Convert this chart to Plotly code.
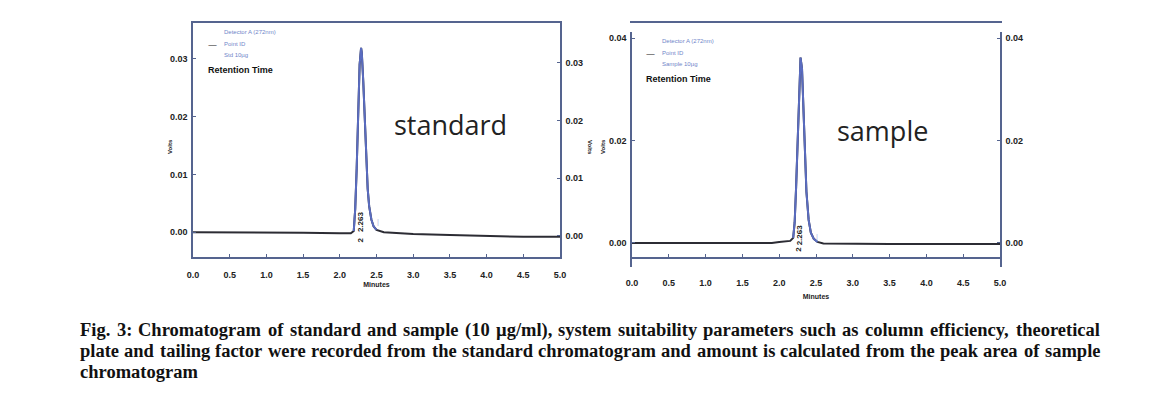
import plotly.graph_objects as go

# ---------------- data ----------------
std_time = [0.0, 0.5, 1.0, 1.5, 2.0, 2.15, 2.19, 2.21, 2.23, 2.25, 2.27, 2.29, 2.30, 2.32,
            2.34, 2.36, 2.38, 2.40, 2.43, 2.46, 2.50, 2.60, 3.0, 3.5, 4.0, 4.5, 5.0]
std_volts = [0.0, 0.0, -0.0001, -0.0001, -0.0002, -0.0002, 0.0002, 0.004, 0.011, 0.021,
             0.029, 0.0319, 0.031, 0.026, 0.019, 0.012, 0.0075, 0.0045, 0.0022, 0.001,
             0.0004, 0.0, -0.0003, -0.0005, -0.0007, -0.0008, -0.0008]

smp_time = [0.0, 0.5, 1.0, 1.5, 1.9, 2.0, 2.15, 2.19, 2.21, 2.23, 2.25, 2.27, 2.29, 2.31,
            2.33, 2.35, 2.37, 2.40, 2.43, 2.47, 2.52, 2.60, 3.0, 3.5, 4.0, 4.5, 5.0]
smp_volts = [0.0, 0.0, -0.0001, -0.0001, 0.0, 0.0002, 0.0004, 0.001, 0.004, 0.011, 0.021,
             0.031, 0.0362, 0.034, 0.026, 0.017, 0.010, 0.0045, 0.002, 0.0008, 0.0002,
             -0.0001, -0.0002, -0.0002, -0.0002, -0.0002, -0.0002]

peak_window = [2.17, 2.56]
peak_label = "2.263"
peak_number = "2"

x_ticks = [0.0, 0.5, 1.0, 1.5, 2.0, 2.5, 3.0, 3.5, 4.0, 4.5, 5.0]
std_y_ticks = [0.00, 0.01, 0.02, 0.03]
smp_y_ticks = [0.00, 0.02, 0.04]

std_legend = ["Detector A (272nm)", "Point ID", "Std 10µg"]
smp_legend = ["Detector A (272nm)", "Point ID", "Sample 10µg"]

caption_lines = [
    "Fig. 3: Chromatogram of standard and sample (10 µg/ml), system suitability parameters such as column efficiency, theoretical",
    "plate and tailing factor were recorded from the standard chromatogram and amount is calculated from the peak area of sample",
    "chromatogram",
]

# ---------------- figure ----------------
W, H = 1150, 396
OFF = 8  # page body margin of the HTML page
fig = go.Figure()

def px_x(p):
    return (p - OFF) / W

def px_y(p):
    return 1 - (p - OFF) / H

BASE = "#2c2c34"
BLUE = "#5a6cc0"
FRAME = "#55648f"
NARROW = "Liberation Sans Narrow, Arial Narrow, Liberation Sans"
TICKFONT = dict(family=NARROW, size=9, color="#222222", weight="bold")

def add_chrom(t, v, xa, ya):
    fig.add_trace(go.Scatter(x=t, y=v, mode="lines", line=dict(color=BASE, width=2),
                             xaxis=xa, yaxis=ya, showlegend=False, hoverinfo="skip"))
    pt = [a for a in t if peak_window[0] <= a <= peak_window[1]]
    pv = [b for a, b in zip(t, v) if peak_window[0] <= a <= peak_window[1]]
    fig.add_trace(go.Scatter(x=pt, y=pv, mode="lines", line=dict(color=BLUE, width=2),
                             xaxis=xa, yaxis=ya, showlegend=False, hoverinfo="skip"))

add_chrom(std_time, std_volts, "x", "y")
add_chrom(smp_time, smp_volts, "x2", "y3")

# panel geometry (pixels in the screenshot)
std_box = dict(l=193, r=560, t=23, b=257)
smp_box = dict(l=632, r=1000, t=32, b=267)

def xaxis_cfg(box, standoff, title_standoff):
    return dict(domain=[px_x(box["l"]), px_x(box["r"])], range=[0, 5], automargin=False,
                tickvals=x_ticks, tickformat=".1f", showgrid=False, zeroline=False,
                showline=True, linecolor=FRAME, linewidth=1.5, mirror=True,
                ticks="inside", ticklen=3, tickcolor=FRAME, tickfont=TICKFONT,
                ticklabelstandoff=standoff,
                title=dict(text="Minutes", font=dict(family=NARROW, size=7, color="#222",
                                                     weight="bold"), standoff=title_standoff))

def yaxis_cfg(box, rng, ticks, anchor, side="left", overlay=None):
    d = dict(domain=[px_y(box["b"]), px_y(box["t"])], range=rng, tickvals=ticks,
             tickformat=".2f", showgrid=False, zeroline=False, showline=True, automargin=False,
             linecolor=FRAME, linewidth=1.5, ticks="inside", ticklen=3, tickcolor=FRAME,
             tickfont=TICKFONT, anchor=anchor, side=side, ticklabelstandoff=2)
    if overlay:
        d["overlaying"] = overlay
    return d

fig.update_layout(
    template="none",
    width=W, height=H, margin=dict(l=0, r=0, t=0, b=0, pad=0, autoexpand=False),
    paper_bgcolor="white", plot_bgcolor="white",
    xaxis=xaxis_cfg(std_box, 8, 4),
    xaxis2=xaxis_cfg(smp_box, 16, 8),
    yaxis=yaxis_cfg(std_box, [-0.0043, 0.0362], std_y_ticks, "x"),
    yaxis2=yaxis_cfg(std_box, [-0.00364, 0.0369], std_y_ticks, "x", side="right", overlay="y"),
    yaxis3=yaxis_cfg(smp_box, [-0.0047, 0.0412], smp_y_ticks, "x2"),
    yaxis4=yaxis_cfg(smp_box, [-0.0047, 0.0412], smp_y_ticks, "x2", side="right", overlay="y3"),
)
# empty traces so the right-hand axes are drawn
fig.add_trace(go.Scatter(x=[None], y=[None], xaxis="x", yaxis="y2", showlegend=False))
fig.add_trace(go.Scatter(x=[None], y=[None], xaxis="x2", yaxis="y4", showlegend=False))

ann = []
small_blue = dict(family=NARROW, size=6, color="#6f86c9")
bold_black = dict(family=NARROW, size=9, color="#111", weight="bold")

def legend_block(x0, ys, texts):
    for yy, tx in zip(ys[:3], texts):
        ann.append(dict(x=px_x(x0 + 16), y=px_y(yy), xref="paper", yref="paper", text=tx,
                        showarrow=False, xanchor="left", yanchor="middle", font=small_blue))
    ann.append(dict(x=px_x(x0), y=px_y(ys[1]), xref="paper", yref="paper", text="—",
                    showarrow=False, xanchor="left", yanchor="middle",
                    font=dict(size=9, color="#222")))
    ann.append(dict(x=px_x(x0), y=px_y(ys[3]), xref="paper", yref="paper", text="Retention Time",
                    showarrow=False, xanchor="left", yanchor="middle", font=bold_black))

legend_block(206, [32, 44, 55, 70], std_legend)
legend_block(644, [41, 53, 64, 79], smp_legend)

# big labels
ann.append(dict(x=px_x(450), y=px_y(104), xref="paper", yref="paper", text="standard",
                showarrow=False, font=dict(family="Open Sans, Liberation Sans", size=27, color="#222")))
ann.append(dict(x=px_x(930), y=px_y(110), xref="paper", yref="paper", text="sample",
                showarrow=False, font=dict(family="Open Sans, Liberation Sans", size=27, color="#222")))

# peak labels
pk_font = dict(family=NARROW, size=8, color="#222", weight="bold")
ann.append(dict(x=2.28, y=0.0018, xref="x", yref="y", text=peak_label, textangle=-90,
                showarrow=False, font=pk_font))
ann.append(dict(x=2.28, y=-0.0014, xref="x", yref="y", text=peak_number, textangle=-90,
                showarrow=False, font=pk_font))
ann.append(dict(x=2.27, y=0.0015, xref="x2", yref="y3", text=peak_label, textangle=-90,
                showarrow=False, font=pk_font))
ann.append(dict(x=2.27, y=-0.0013, xref="x2", yref="y3", text=peak_number, textangle=-90,
                showarrow=False, font=pk_font))
# small integration markers after the peak
for xa, ya, yv in [("x", "y", 0.0018), ("x2", "y3", 0.0012)]:
    ann.append(dict(x=2.52, y=yv, xref=xa, yref=ya, text="|", showarrow=False,
                    font=dict(size=7, color="#8fa3d8")))

# y titles
vt = dict(family=NARROW, size=6, color="#222", weight="bold")
for xx, yy, ang in [(165, 147, -90), (590, 147, 90), (603, 147, -90)]:
    ann.append(dict(x=px_x(xx), y=px_y(yy), xref="paper", yref="paper", text="Volts",
                    textangle=ang, showarrow=False, font=vt))

# caption: justified word placement (Times-Bold advance widths, 1/1000 em)
TB = {' ': 250, 'a': 500, 'b': 556, 'c': 444, 'd': 556, 'e': 444, 'f': 333, 'g': 500,
      'h': 556, 'i': 278, 'j': 333, 'k': 556, 'l': 278, 'm': 833, 'n': 556, 'o': 500,
      'p': 556, 'q': 556, 'r': 444, 's': 389, 't': 333, 'u': 556, 'v': 500, 'w': 722,
      'x': 500, 'y': 500, 'z': 444, 'F': 611, 'C': 722, '.': 250, ':': 333, ',': 250,
      '(': 333, ')': 333, '/': 278, '0': 500, '1': 500, '3': 500, 'µ': 556}
CAP_SIZE = 18.5
cap_font = dict(family="Liberation Serif, Times New Roman", size=CAP_SIZE, color="#111",
                weight="bold")
CAP_L, CAP_R = 78, 1098

def wwidth(w):
    return sum(TB.get(ch, 500) for ch in w) * CAP_SIZE / 1000.0

for i, line in enumerate(caption_lines):
    yy = px_y(330 + 21 * i)
    words = line.split(" ")
    if i < len(caption_lines) - 1 and len(words) > 1:
        total = sum(wwidth(w) for w in words)
        gap = (CAP_R - CAP_L - total) / (len(words) - 1)
        x = CAP_L
        for w in words:
            ann.append(dict(x=px_x(x), y=yy, xref="paper", yref="paper", text=w,
                            showarrow=False, xanchor="left", yanchor="middle", font=cap_font))
            x += wwidth(w) + gap
    else:
        ann.append(dict(x=px_x(CAP_L), y=yy, xref="paper", yref="paper", text=line,
                        showarrow=False, xanchor="left", yanchor="middle", font=cap_font))

fig.update_layout(annotations=ann)
fig.write_html("out.html")
